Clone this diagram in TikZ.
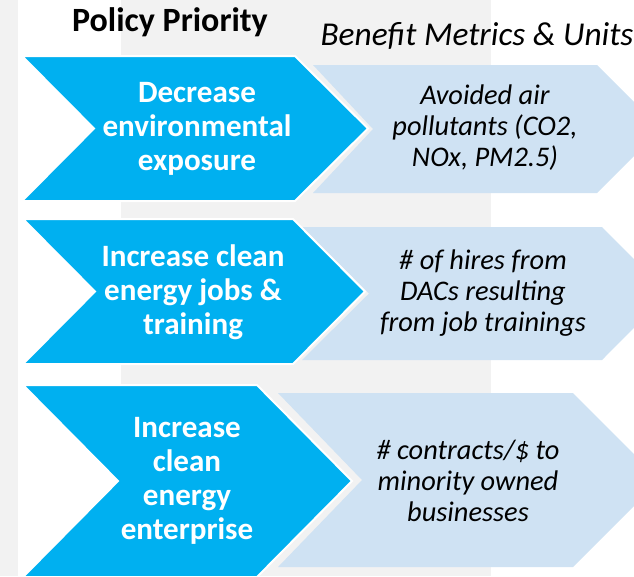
\documentclass[tikz,border=0pt]{standalone}
\usepackage{fontspec}
\setmainfont{Carlito}

\definecolor{chevblue}{HTML}{00B0F0}
\definecolor{metricblue}{HTML}{CFE2F3}
\definecolor{panelgray}{HTML}{F2F2F2}

\tikzset{
  priority/.style={fill=chevblue, draw=white, line width=1.5pt, line join=miter},
  metric/.style={fill=metricblue},
  prioritytext/.style={text=white, font=\bfseries\fontsize{23.3}{25.5}\selectfont, align=center, inner sep=0pt},
  metrictext/.style={font=\itshape\fontsize{21.3}{23.3}\selectfont, align=center, inner sep=0pt},
}

\begin{document}
\begin{tikzpicture}[x=0.75pt, y=-0.75pt]
    \useasboundingbox (0,0) rectangle (634,576);
    \clip (0,0) rectangle (634,576);
    \begin{scope}
      \fill[panelgray] (0,0) rectangle (18,576);
      \fill[panelgray] (121,0) rectangle (491,576);
    \end{scope}
    \node[font=\bfseries\fontsize{25.5}{30}\selectfont] (priohead) at (170,22) {Policy Priority};
    \node[font=\itshape\fontsize{25}{29}\selectfont] (metrichead) at (477,36) {Benefit Metrics \& Units};
    \begin{scope}
      \fill[metric] (313,65) -- (597,65) -- (661,129) -- (597,193) -- (313,193) -- (373,129) -- cycle;
      \draw[priority] (22,56) -- (295,56) -- (368,128.5) -- (295,201) -- (22,201) -- (94,128.5) -- cycle;
      \node[prioritytext] (prio1) at (197,128.5) {Decrease\\environmental\\exposure};
      \node[metrictext] (metric1) at (485,128) {Avoided air\\pollutants (CO2,\\NOx, PM2.5)};
    \end{scope}
    \begin{scope}
      \fill[metric] (302,227) -- (602,227) -- (668,293.5) -- (602,360) -- (302,360) -- (369,293.5) -- cycle;
      \draw[priority] (23,219) -- (293,219) -- (365,291.5) -- (293,364) -- (23,364) -- (95,291.5) -- cycle;
      \node[prioritytext] (prio2) at (193,292) {Increase clean\\energy jobs \&\\training};
      \node[metrictext] (metric2) at (483,293) {\# of hires from\\DACs resulting\\from job trainings};
    \end{scope}
    \begin{scope}
      \fill[metric] (278,393) -- (573,393) -- (660,480) -- (573,567) -- (278,567) -- (362,480) -- cycle;
      \draw[priority] (23,385) -- (257,385) -- (352,481) -- (257,577) -- (23,577) -- (118,481) -- cycle;
      \node[prioritytext] (prio3) at (187,481) {Increase\\clean\\energy\\enterprise};
      \node[metrictext] (metric3) at (468,481) {\# contracts/\$ to\\minority owned\\businesses};
    \end{scope}
\end{tikzpicture}
\end{document}
